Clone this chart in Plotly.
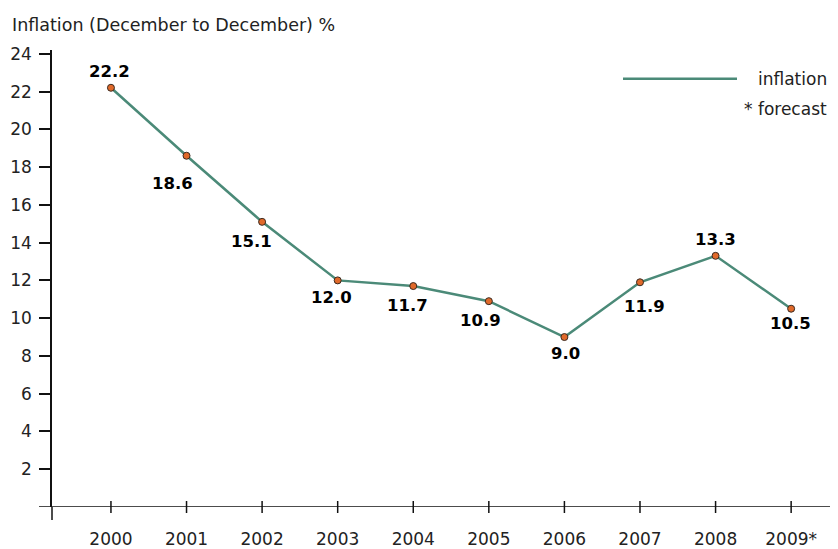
import plotly.graph_objects as go

years = ['2000', '2001', '2002', '2003', '2004', '2005', '2006', '2007', '2008', '2009*']
inflation = [22.2, 18.6, 15.1, 12.0, 11.7, 10.9, 9.0, 11.9, 13.3, 10.5]
# label offsets (px) relative to each point
label_dx = [-1, -14, -11, -6, -6, -8, 1, 5, 0, -1]
label_dy = [-16, 28, 20, 17, 19, 19, 16, 24, -16, 15]

line_color = '#4b8a78'
font = 'DejaVu Sans'

x_idx = list(range(len(years)))

# the page body has an 8px margin, so the figure starts at (8, 8)
OFF = 8
W, H = 838 - OFF, 549 - OFF
L, R, T, B = 52 - OFF, 0, 50 - OFF, 40
pw, ph = W - L - R, H - T - B


def px_to_paper(px, py):
    # reference screenshot pixel -> paper coords
    return (px - OFF - L) / pw, (H - B - (py - OFF)) / ph


fig = go.Figure()
fig.add_trace(go.Scatter(
    x=x_idx, y=inflation, mode='lines+markers',
    line=dict(color=line_color, width=2.5),
    marker=dict(size=7, color='#e0692a', line=dict(color='#3a2a20', width=1)),
    showlegend=False, hoverinfo='y'
))

annotations = []
for i, v in enumerate(inflation):
    annotations.append(dict(
        x=i, y=v, xref='x', yref='y', text=f'{v:.1f}', showarrow=False,
        xshift=label_dx[i], yshift=-label_dy[i],
        font=dict(family=font, size=16.5, color='#000000', weight='bold')
    ))

tx, ty = px_to_paper(10, 25)
annotations.append(dict(x=tx, y=ty, xref='paper', yref='paper', text='Inflation (December to December) %',
                        showarrow=False, xanchor='left', yanchor='middle',
                        font=dict(family=font, size=17.5, color='#222222')))
# legend
for txt, py in [('inflation', 79), ('* forecast', 109)]:
    lx, ly = px_to_paper(829, py)
    annotations.append(dict(x=lx, y=ly, xref='paper', yref='paper', text=txt, showarrow=False,
                            xanchor='right', yanchor='middle',
                            font=dict(family=font, size=17, color='#222222')))

shapes = []
# legend line
lx0, ly = px_to_paper(623, 79)
lx1, _ = px_to_paper(737, 79)
shapes.append(dict(type='line', xref='paper', yref='paper', x0=lx0, x1=lx1, y0=ly, y1=ly,
                   line=dict(color=line_color, width=2.5)))
# x axis line and crossing ticks
shapes.append(dict(type='line', xref='paper', yref='y', x0=-13 / pw, x1=1, y0=0, y1=0,
                   line=dict(color='#111111', width=1.5)))
shapes.append(dict(type='line', xref='paper', yref='paper', x0=0, x1=0, y0=-13 / ph, y1=0,
                   line=dict(color='#111111', width=1.5)))
for i in x_idx:
    shapes.append(dict(type='line', xref='x', yref='paper', x0=i, x1=i, y0=-6 / ph, y1=6 / ph,
                       line=dict(color='#111111', width=1.5)))

fig.update_layout(
    width=W, height=H,
    margin=dict(l=L, r=R, t=T, b=B),
    plot_bgcolor='white', paper_bgcolor='white',
    annotations=annotations, shapes=shapes,
    font=dict(family=font, size=16, color='#222222'),
)
fig.update_xaxes(
    range=[-0.78, 9.62], tickvals=x_idx, ticktext=years,
    showgrid=False, zeroline=False, showline=False, ticks='',
    ticklabelstandoff=20, tickfont=dict(size=17, color='#222222')
)
fig.update_yaxes(
    range=[0, 24.2], tickvals=list(range(2, 25, 2)),
    showgrid=False, zeroline=False, showline=True, linecolor='#111111', linewidth=1.5,
    ticks='outside', ticklen=11, tickwidth=1.5, tickcolor='#111111',
    ticklabelstandoff=4, tickfont=dict(size=17, color='#222222')
)

fig.write_html('out.html')
